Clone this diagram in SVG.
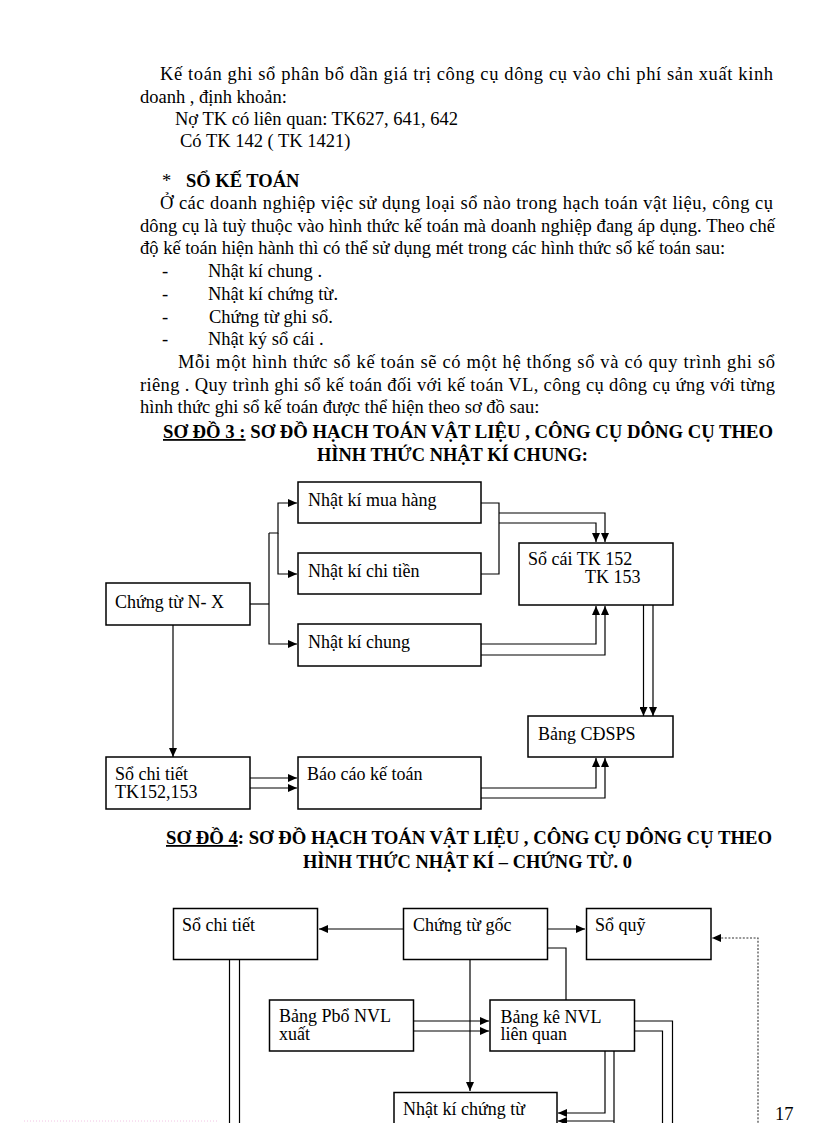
<svg xmlns="http://www.w3.org/2000/svg" width="816" height="1123" viewBox="0 0 816 1123">
<style>
text{font-family:"Liberation Serif","Times New Roman",serif;font-size:18.5px;fill:#000}
.b{font-weight:bold}
.t{font-weight:bold;font-size:18px}
.n text{font-size:18px}
.n rect{fill:#fff;stroke:#000;stroke-width:1.5}
.c path{fill:none;stroke:#000;stroke-width:1.2}
.c .ar{marker-end:url(#a)}
.c .dot{stroke:#333;stroke-width:1.1;stroke-dasharray:2 1.6}
</style>
<defs>
<marker id="a" markerWidth="9" markerHeight="8" refX="9" refY="4" orient="auto" markerUnits="userSpaceOnUse"><path d="M0,0 L9,4 L0,8 z" fill="#000"/></marker>
</defs>
<rect width="816" height="1123" fill="#fff"/>

<g id="body-text">
<text x="160" y="80" textLength="613" lengthAdjust="spacing">Kế toán ghi sổ phân bổ dần giá trị công cụ dông cụ vào chi phí sản xuất kinh</text>
<text x="140" y="102.5">doanh , định khoản:</text>
<text x="175" y="124.5">Nợ TK có liên quan: TK627, 641, 642</text>
<text x="180" y="147">Có TK 142  ( TK 1421)</text>
<text x="162" y="187">*</text>
<text x="186" y="187" class="b">SỔ KẾ TOÁN</text>
<text x="160" y="209" textLength="613" lengthAdjust="spacing">Ở các doanh nghiệp việc sử dụng loại sổ nào trong hạch toán vật liệu, công cụ</text>
<text x="140" y="231.5" textLength="635" lengthAdjust="spacing">dông cụ là tuỳ thuộc vào hình thức kế toán mà doanh nghiệp đang áp dụng. Theo chế</text>
<text x="140" y="254">độ kế toán hiện hành thì có thể sử dụng mét trong các hình thức sổ kế toán sau:</text>
<text x="162" y="277">-</text><text x="208" y="277">Nhật kí chung .</text>
<text x="162" y="300">-</text><text x="208" y="300">Nhật kí chứng từ.</text>
<text x="162" y="322.5">-</text><text x="209" y="322.5">Chứng từ ghi sổ.</text>
<text x="162" y="345">-</text><text x="208" y="345">Nhật ký sổ cái .</text>
<text x="178" y="368" textLength="597" lengthAdjust="spacing">Mỗi một hình thức sổ kế toán sẽ có một hệ thống sổ và có quy trình ghi sổ</text>
<text x="140" y="390.5" textLength="635" lengthAdjust="spacing">riêng . Quy trình ghi sổ kế toán đối với kế toán VL, công cụ dông cụ ứng với từng</text>
<text x="140" y="413">hình thức ghi sổ kế toán được thể hiện theo sơ đồ sau:</text>
<text x="163" y="438" class="t" textLength="610" lengthAdjust="spacingAndGlyphs"><tspan text-decoration="underline">SƠ ĐỒ 3 :</tspan> SƠ ĐỒ HẠCH TOÁN VẬT LIỆU , CÔNG CỤ DÔNG CỤ THEO</text>
<text x="317" y="461" class="t" textLength="271" lengthAdjust="spacingAndGlyphs">HÌNH THỨC NHẬT KÍ CHUNG:</text>
<text x="166" y="844" class="t" textLength="606" lengthAdjust="spacingAndGlyphs"><tspan text-decoration="underline">SƠ ĐỒ 4</tspan>: SƠ ĐỒ HẠCH  TOÁN VẬT LIỆU , CÔNG CỤ DÔNG CỤ THEO</text>
<text x="303" y="868" class="t" textLength="329" lengthAdjust="spacingAndGlyphs">HÌNH  THỨC NHẬT KÍ – CHỨNG TỪ. 0</text>
<text x="775" y="1120">17</text>
</g>

<g class="c" id="connectors">
<path d="M250,604 H269"/>
<path class="ar" d="M269,533 V644 H297"/>
<path class="ar" d="M269,533 H278 V503 H297"/>
<path class="ar" d="M278,533 V574 H297"/>
<path d="M481,503 H499 V574 H481"/>
<path class="ar" d="M499,513 H605 V542"/>
<path class="ar" d="M499,523 H596 V542"/>
<path class="ar" d="M481,644 H596 V606"/>
<path class="ar" d="M481,655 H605 V606"/>
<path class="ar" d="M643.5,605 V716"/>
<path class="ar" d="M653,605 V716"/>
<path class="ar" d="M173,625 V757"/>
<path class="ar" d="M250,778 H297"/>
<path class="ar" d="M250,788 H297"/>
<path class="ar" d="M481,788 H596 V758"/>
<path class="ar" d="M481,798 H605 V758"/>
<path class="ar" d="M403,929 H319"/>
<path class="ar" d="M548,929 H585"/>
<path d="M548,948 H566 V1000"/>
<path class="ar" d="M470,960 V1091"/>
<path class="ar" d="M414,1021 H489"/>
<path class="ar" d="M414,1031 H489"/>
<path d="M635,1021 H672.5 V1130"/>
<path d="M635,1031 H662.5 V1130"/>
<path class="ar" d="M605,1051 V1113 H558"/>
<path d="M614,1051 V1130"/>
<path class="ar" d="M614,1121 H558"/>
<path d="M229.5,960 V1130"/>
<path d="M239.5,960 V1130"/>
<path class="ar dot" d="M758,1130 V938 H712"/>
</g>

<g class="n">
<g id="n-nk-mua-hang"><rect x="298" y="482" width="183" height="41"/><text x="308" y="506">Nhật kí mua hàng</text></g>
<g id="n-nk-chi-tien"><rect x="298" y="553" width="183" height="41"/><text x="308" y="577">Nhật kí chi tiền</text></g>
<g id="n-nk-chung"><rect x="298" y="624" width="183" height="42"/><text x="308" y="648">Nhật kí chung</text></g>
<g id="n-so-cai"><rect x="519" y="543" width="154" height="62"/><text x="528" y="565">Sổ cái TK 152</text><text x="585" y="583">TK 153</text></g>
<g id="n-chung-tu-nx"><rect x="106" y="583" width="144" height="42"/><text x="115" y="608">Chứng từ N- X</text></g>
<g id="n-bang-cdsps"><rect x="528" y="716" width="145" height="41"/><text x="538" y="740">Bảng CĐSPS</text></g>
<g id="n-so-chi-tiet-1"><rect x="106" y="757" width="144" height="52"/><text x="115" y="780">Sổ chi tiết</text><text x="115" y="798">TK152,153</text></g>
<g id="n-bao-cao"><rect x="298" y="757" width="183" height="52"/><text x="307" y="780">Báo cáo kế toán</text></g>

<g id="n-so-chi-tiet-2"><rect x="173.5" y="908.5" width="144" height="51"/><text x="182" y="931">Sổ chi tiết</text></g>
<g id="n-chung-tu-goc"><rect x="403.5" y="908.5" width="144" height="51"/><text x="413" y="931">Chứng từ gốc</text></g>
<g id="n-so-quy"><rect x="586.5" y="908.5" width="124.5" height="51"/><text x="595" y="931">Sổ quỹ</text></g>
<g id="n-bang-pbo"><rect x="269.5" y="1000" width="144" height="51"/><text x="279" y="1022">Bảng Pbổ NVL</text><text x="279" y="1039.5">xuất</text></g>
<g id="n-bang-ke"><rect x="490" y="1000" width="144.5" height="51"/><text x="500.5" y="1023">Bảng kê NVL</text><text x="500.5" y="1040">liên quan</text></g>
<g id="n-nk-chung-tu"><rect x="394" y="1092.5" width="163" height="50"/><text x="403" y="1115">Nhật kí chứng từ</text><text x="403" y="1137">(sổ 5, số 7...)</text></g>
</g>
<line x1="24" y1="1121" x2="219" y2="1121" stroke="#f2c4e4" stroke-width="1" stroke-dasharray="1 2"/>
</svg>
